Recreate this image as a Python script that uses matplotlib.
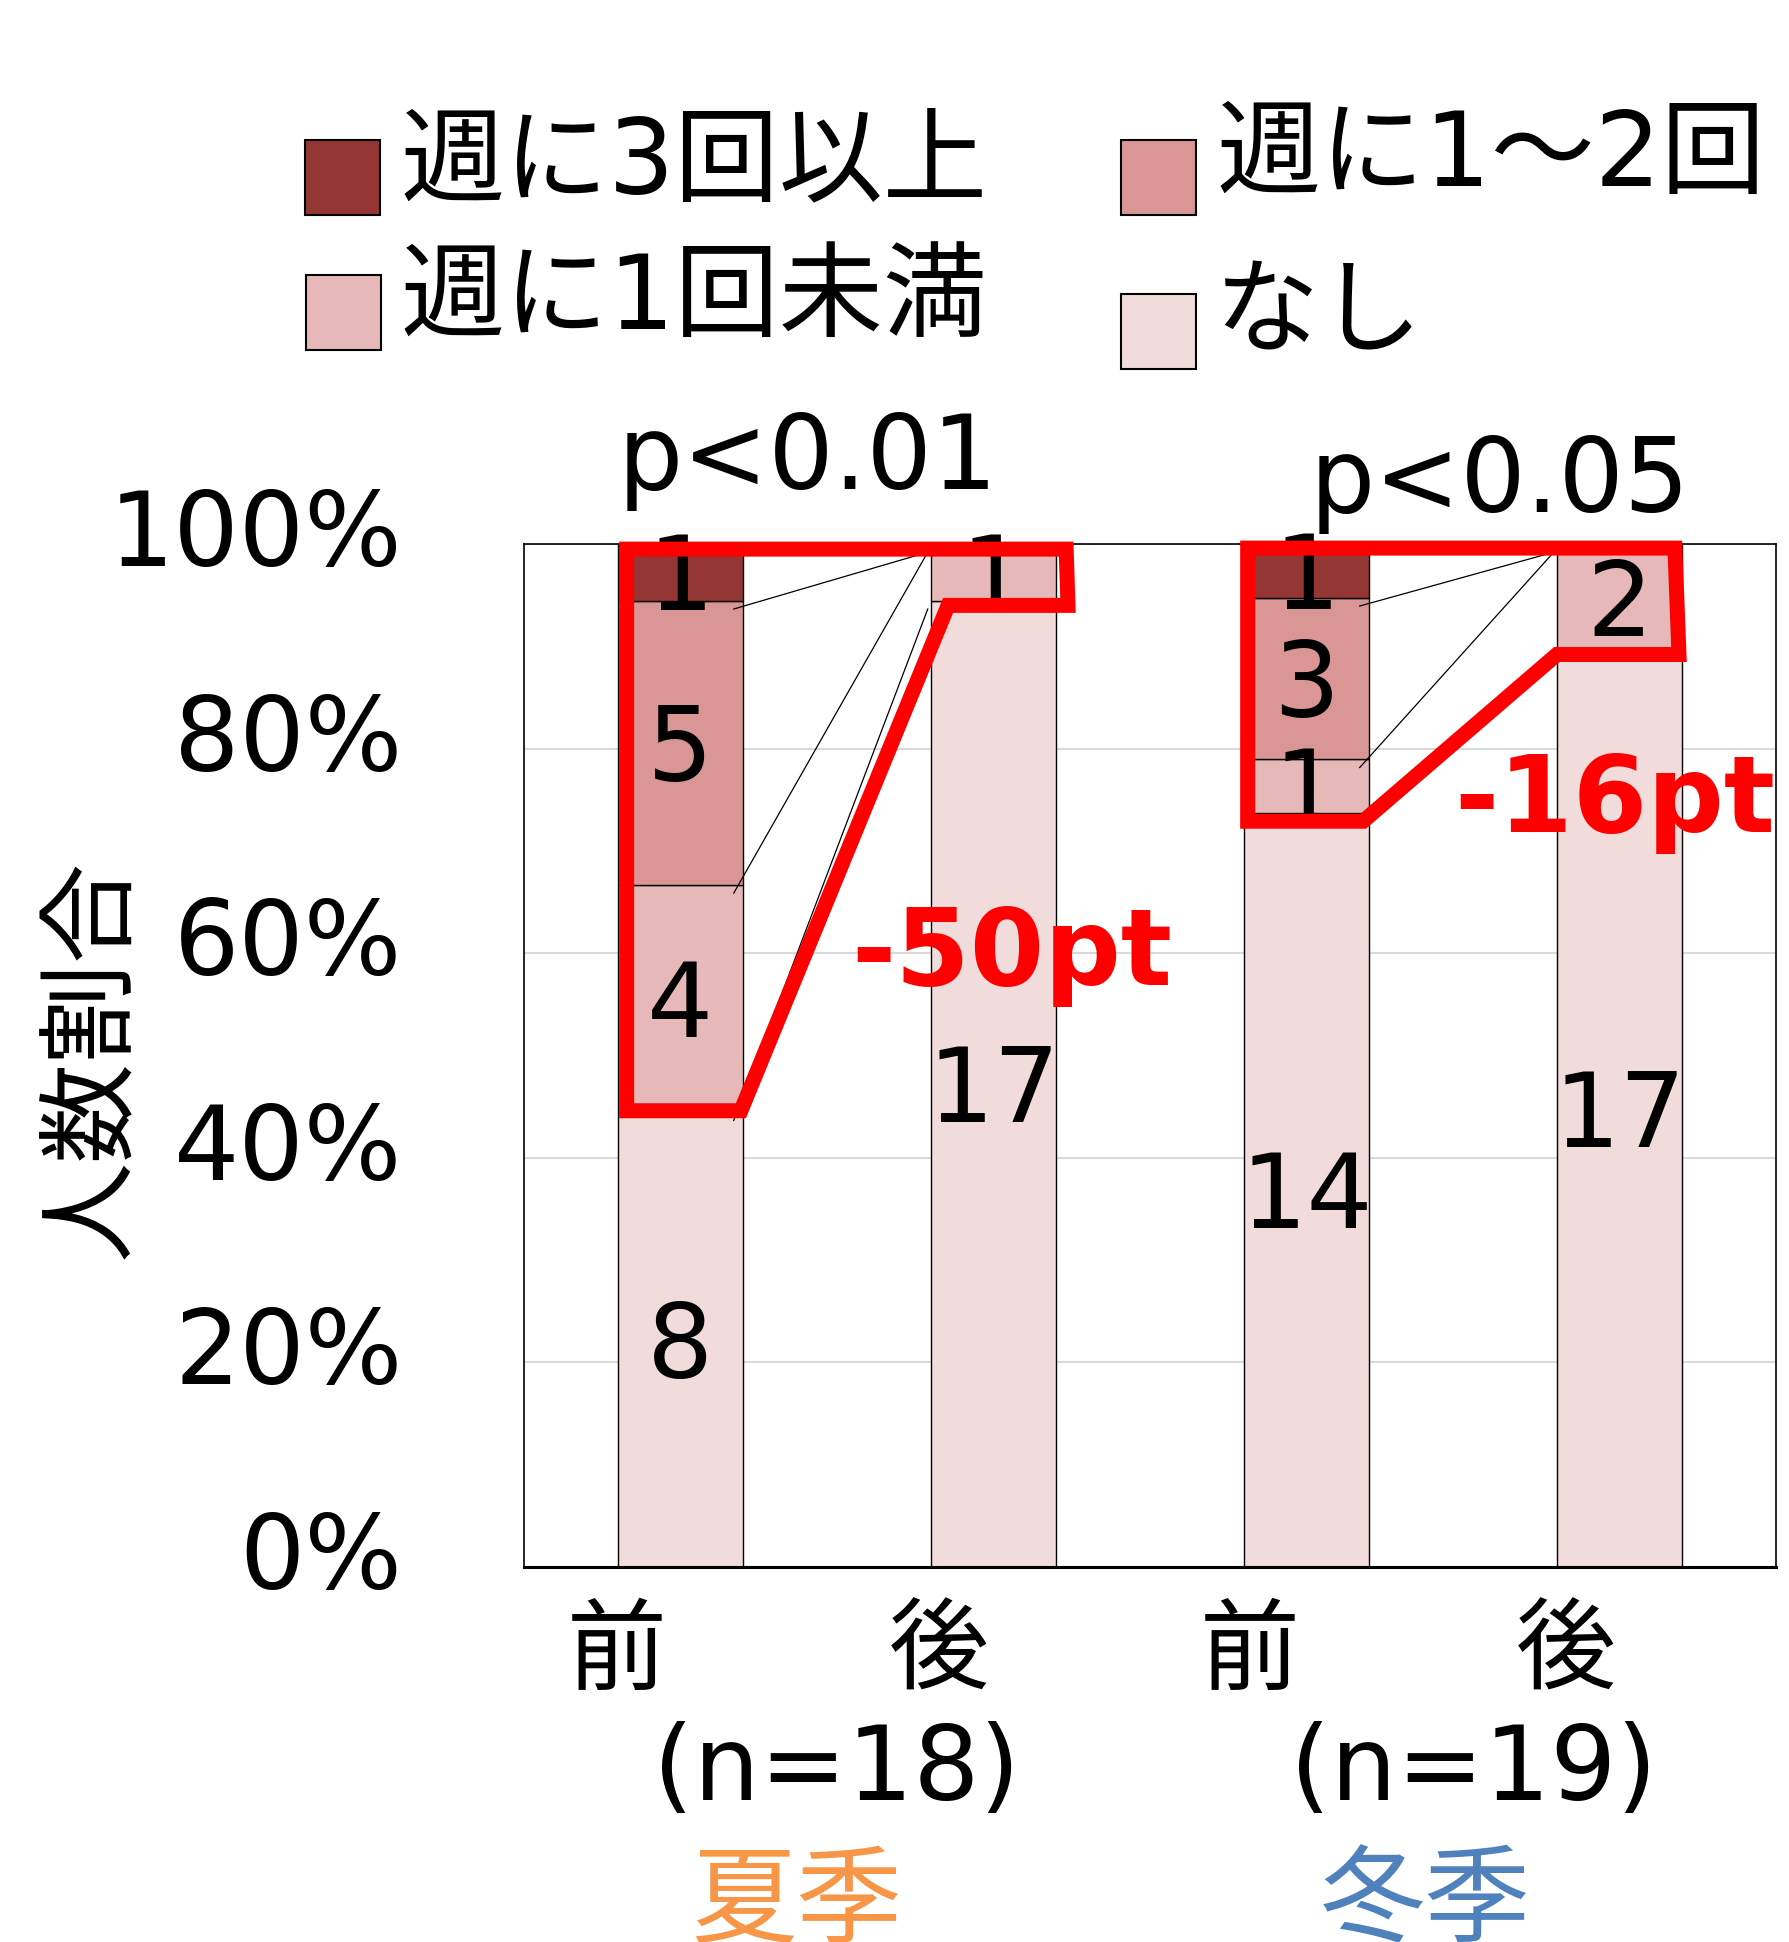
import matplotlib
matplotlib.use("Agg")
import matplotlib.pyplot as plt
from matplotlib.patches import Polygon, Rectangle
from matplotlib.transforms import ScaledTranslation

# Latin glyphs from DejaVu Sans, Japanese glyphs from Noto Sans CJK JP
plt.rcParams['font.family'] = ['DejaVu Sans', 'Noto Sans CJK JP']

# ---- data -------------------------------------------------------------
phases = ['前', '後', '前', '後']
seasons = ['夏季', '冬季']
sample_sizes = ['(n=18)', '(n=19)']
season_colors = ['#F79646', '#4F81BD']

series_names = ['なし', '週に1回未満', '週に1～2回', '週に3回以上']   # bottom -> top
count_none = [8, 17, 14, 17]
count_lt1 = [4, 1, 1, 2]
count_1to2 = [5, 0, 3, 0]
count_3plus = [1, 0, 1, 0]
series_colors = ['#F2DCDB', '#E6B9B8', '#D99694', '#943634']

yticks = [0, 20, 40, 60, 80, 100]
ytick_labels = ['0%', '20%', '40%', '60%', '80%', '100%']

p_labels = ['p<0.01', 'p<0.05']
change_labels = ['-50pt', '-16pt']

# highlight outlines (data coords: x position, y percent)
summer_outline = [(-0.172, 99.5), (1.232, 99.5), (1.238, 94.0), (0.855, 94.0),
                  (0.193, 44.6), (-0.172, 44.6)]
winter_outline = [(1.812, 99.6), (3.177, 99.6), (3.19, 89.2), (2.80, 89.2),
                  (2.181, 72.9), (1.812, 72.9)]

# ---- figure -------------------------------------------------------------
W, H, DPI = 1790, 1942, 100
fig = plt.figure(figsize=(W / DPI, H / DPI), dpi=DPI)
ax = fig.add_axes([524 / W, 1 - 1567 / H, (1776 - 524) / W, (1567 - 544) / H])

counts = [count_none, count_lt1, count_1to2, count_3plus]
totals = [sum(c[i] for c in counts) for i in range(len(phases))]
shares = [[c[i] / totals[i] * 100 for i in range(len(phases))] for c in counts]

x = list(range(len(phases)))
bar_w = 0.4
bottoms = [0.0] * len(phases)
tops_by_series = []
FS_NUM = 75
for s, (vals, col) in enumerate(zip(shares, series_colors)):
    ax.bar(x, vals, bar_w, bottom=bottoms, color=col, edgecolor='black',
           linewidth=1.0, zorder=2)
    for i in range(len(phases)):
        cnt = counts[s][i]
        if cnt:
            mid = bottoms[i] + vals[i] / 2
            ax.annotate(str(cnt), (x[i], mid), xytext=(0, -0.365 * FS_NUM),
                        textcoords='offset points', ha='center', va='baseline',
                        fontsize=FS_NUM, color='black', zorder=5)
    bottoms = [b + v for b, v in zip(bottoms, vals)]
    tops_by_series.append(list(bottoms))

# series lines between the before/after bars of each season
for g in range(2):
    a, b = 2 * g, 2 * g + 1
    for tops in tops_by_series[:-1]:
        ax.plot([x[a] + bar_w / 2 - 0.03, x[b] - bar_w / 2 - 0.01],
                [tops[a] - 0.8, tops[b] - 0.8], color='black', lw=0.9,
                zorder=3)

ax.set_xlim(-0.5, 3.5)
ax.set_ylim(0, 100)
ax.set_yticks(yticks)
ax.yaxis.grid(True, color='#D9D9D9', lw=1.5, zorder=0)
ax.set_axisbelow(True)
ax.tick_params(length=0, labelleft=False, labelbottom=False)
for sp in ax.spines.values():
    sp.set_color('black')
    sp.set_linewidth(1.2)
ax.spines['bottom'].set_linewidth(2.2)

# y tick labels
ytr = ax.get_yaxis_transform() + ScaledTranslation(0, -22 / DPI, fig.dpi_scale_trans)
for v, lab in zip(yticks, ytick_labels):
    ax.text(-0.097, v, lab, transform=ytr, ha='right', va='baseline', fontsize=74)

fig.text(93 / W, 1 - 1059 / H, '人数割合', rotation=90, ha='center', va='center',
         fontsize=72)

# category labels
xtr = ax.get_xaxis_transform()
phase_offsets = [-0.205, -0.175, -0.18, -0.17]
for i, lab in enumerate(phases):
    ax.text(x[i] + phase_offsets[i], -0.085, lab, transform=xtr, ha='center',
            va='center', fontsize=72)
n_pos = [0.5, 2.535]
season_pos = [0.372, 2.379]
for g in range(2):
    ax.text(n_pos[g], -0.2, sample_sizes[g], transform=xtr, ha='center',
            va='center', fontsize=75)
    ax.text(season_pos[g], -0.33, seasons[g], transform=xtr, ha='center',
            va='center', fontsize=76, color=season_colors[g])

# significance and change annotations
ax.text(0.407, 105.4, p_labels[0], ha='center', va='baseline', fontsize=74)
ax.text(2.618, 103.1, p_labels[1], ha='center', va='baseline', fontsize=74)
ax.text(1.059, 56.9, change_labels[0], ha='center', va='baseline', fontsize=77,
        color='red', fontweight='bold')
ax.text(2.986, 71.8, change_labels[1], ha='center', va='baseline', fontsize=77,
        color='red', fontweight='bold')

for pts in (summer_outline, winter_outline):
    ax.add_patch(Polygon(pts, closed=True, fill=False, edgecolor='#FF0000',
                         lw=10.8, joinstyle='miter', clip_on=False, zorder=6))

# legend (2 x 2 grid)
legend_items = [
    (3, 305, 140, 400, 165),
    (2, 1121, 140, 1216, 157),
    (1, 306, 275, 400, 300),
    (0, 1121, 294, 1214, 316),
]
for s, sx, sy, tx, ty in legend_items:
    fig.add_artist(Rectangle((sx / W, 1 - (sy + 75) / H), 75 / W, 75 / H,
                             facecolor=series_colors[s], edgecolor='black',
                             lw=1.5, transform=fig.transFigure))
    fig.text(tx / W, 1 - ty / H, series_names[s], ha='left', va='center',
             fontsize=75)

fig.savefig('out.png', dpi=DPI)
